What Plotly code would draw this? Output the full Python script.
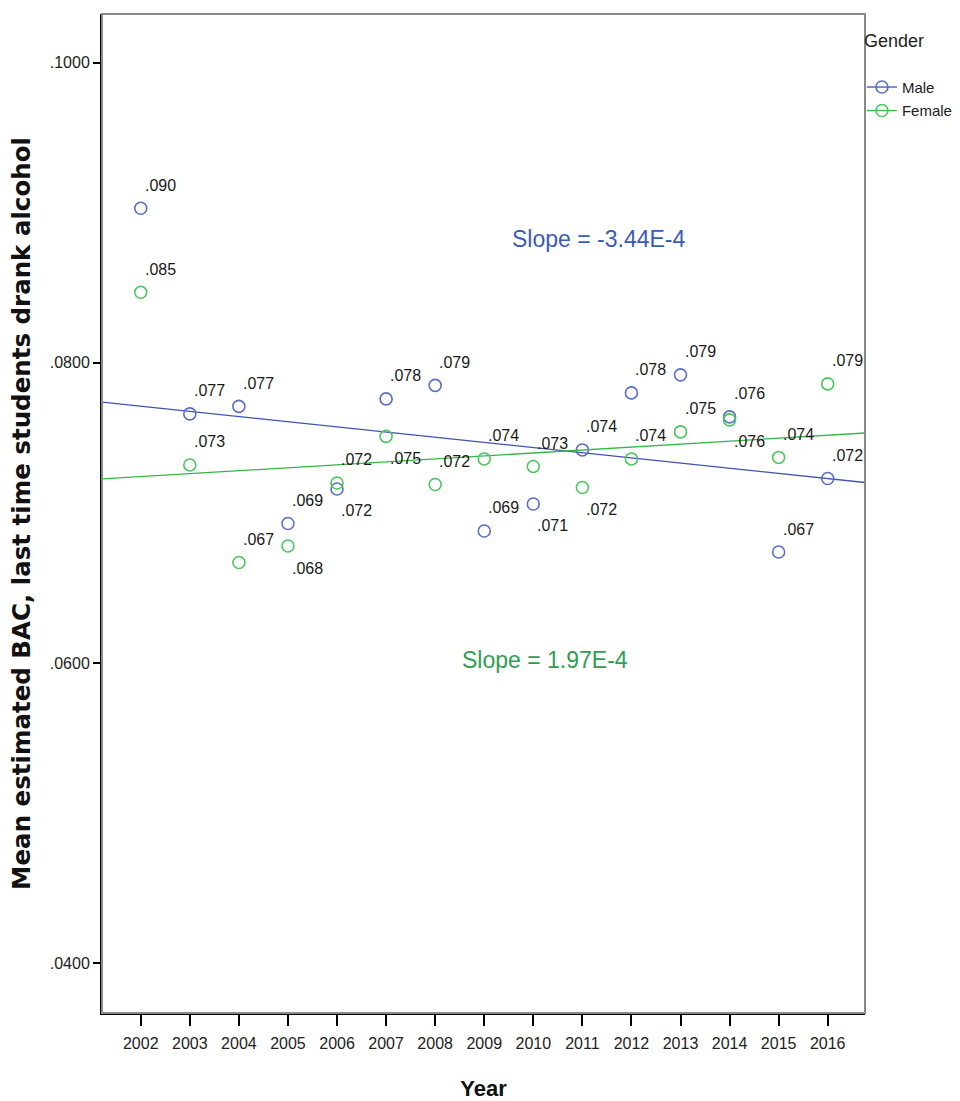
import plotly.graph_objects as go

years = list(range(2002, 2017))
male_bac = [0.0903, 0.0766, 0.0771, 0.0693, 0.0716, 0.0776, 0.0785, 0.0688,
            0.0706, 0.0742, 0.0780, 0.0792, 0.0764, 0.0674, 0.0723]
female_bac = [0.0847, 0.0732, 0.0667, 0.0678, 0.0720, 0.0751, 0.0719, 0.0736,
              0.0731, 0.0717, 0.0736, 0.0754, 0.0762, 0.0737, 0.0786]
# label placement: 1 = above point, -1 = below point
male_label_pos = [1, 1, 1, 1, -1, 1, 1, 1, -1, 1, 1, 1, 1, 1, 1]
female_label_pos = [1, 1, 1, -1, 1, -1, 1, 1, 1, -1, 1, 1, -1, 1, 1]

# fit lines: slope per year, value at 2009
male_slope, male_fit_2009 = -3.44e-4, 0.07470
female_slope, female_fit_2009 = 1.97e-4, 0.07380

y_ticks = [0.04, 0.06, 0.08, 0.10]
x_range = [2001.21, 2016.76]
y_range = [0.03669, 0.10324]

MALE_MK = "#5B6FC6"
MALE_LN = "#3E52B1"
MALE_TX = "#3B5BB4"
FEM_MK = "#4CC65E"
FEM_LN = "#34B845"
FEM_TX = "#2E9E52"

FONT = "Liberation Sans, Arial, sans-serif"

fig = go.Figure()

def fit_y(slope, v2009, x):
    return v2009 + slope * (x - 2009)

for name, vals, slope, v09, mk, ln in [
    ("Male", male_bac, male_slope, male_fit_2009, MALE_MK, MALE_LN),
    ("Female", female_bac, female_slope, female_fit_2009, FEM_MK, FEM_LN),
]:
    fig.add_trace(go.Scatter(
        x=x_range, y=[fit_y(slope, v09, x) for x in x_range],
        mode="lines", line=dict(color=ln, width=1.3),
        showlegend=False, hoverinfo="skip"))
    fig.add_trace(go.Scatter(
        x=years, y=vals, mode="markers",
        marker=dict(symbol="circle-open", size=12, color=mk, line=dict(width=1.6, color=mk)),
        showlegend=False))
    fig.add_trace(go.Scatter(
        x=[None], y=[None], mode="lines+markers", name=name, legendgroup=name,
        line=dict(color=ln, width=1.3),
        marker=dict(symbol="circle-open", size=12, color=mk, line=dict(width=1.6, color=mk))))

annotations = []
for vals, pos in [(male_bac, male_label_pos), (female_bac, female_label_pos)]:
    for x, v, p in zip(years, vals, pos):
        annotations.append(dict(
            x=x, y=v, xref="x", yref="y", text=f"{v:.3f}"[1:],
            showarrow=False, xanchor="left", yanchor="middle",
            xshift=2, yshift=23 if p > 0 else -22,
            font=dict(family=FONT, size=16, color="#1a1a1a")))

annotations.append(dict(
    x=2011.32, y=0.08825, xref="x", yref="y",
    text=f"Slope = {male_slope:.2E}".replace("E-04", "E-4"),
    showarrow=False, font=dict(family=FONT, size=23, color=MALE_TX)))
annotations.append(dict(
    x=2010.24, y=0.0602, xref="x", yref="y",
    text=f"Slope = {female_slope:.2E}".replace("E-04", "E-4"),
    showarrow=False, font=dict(family=FONT, size=23, color=FEM_TX)))

fig.update_layout(
    width=960, height=1101,
    margin=dict(l=102, r=95, t=14, b=88, autoexpand=False),
    paper_bgcolor="white", plot_bgcolor="white",
    annotations=annotations,
    showlegend=True,
    legend=dict(
        title=dict(text="Gender<br> ", font=dict(family=FONT, size=18, color="#222")),
        x=0.996, y=0.99, xanchor="left", yanchor="top",
        font=dict(family=FONT, size=15, color="#222"),
        itemwidth=30, tracegroupgap=1, bgcolor="rgba(0,0,0,0)"),
    shapes=[dict(type="rect", xref="paper", yref="paper", x0=0, x1=1, y0=0, y1=1,
                 line=dict(color="#8a8a8a", width=2), layer="above")],
)

fig.update_xaxes(
    range=x_range, tickvals=years, ticktext=[str(y) for y in years],
    showgrid=False, zeroline=False, showline=True, linecolor="black", linewidth=2,
    ticks="outside", ticklen=11, tickwidth=1.5, tickcolor="black", ticklabelstandoff=4,
    tickfont=dict(family=FONT, size=16, color="#222"),
    title=dict(text="<b>Year</b>", font=dict(family=FONT, size=22, color="#111"), standoff=30))
fig.update_yaxes(
    range=y_range, tickvals=y_ticks, ticktext=[f"{t:.4f}"[1:] for t in y_ticks],
    showgrid=False, zeroline=False, showline=True, linecolor="black", linewidth=2,
    ticks="outside", ticklen=7, tickwidth=1.5, tickcolor="black",
    tickfont=dict(family=FONT, size=16, color="#222"),
    title=dict(text="<b>Mean estimated BAC, last time students drank alcohol</b>",
               font=dict(family="DejaVu Sans", size=24.5, color="#111"), standoff=12))

fig.write_html("out.html")
